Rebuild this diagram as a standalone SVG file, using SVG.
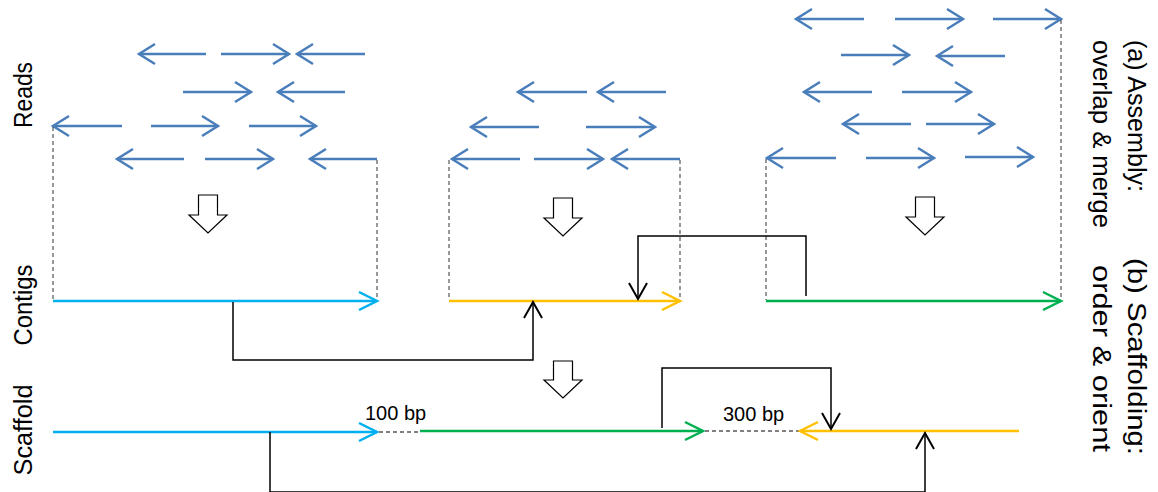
<svg xmlns="http://www.w3.org/2000/svg" width="1158" height="492" viewBox="0 0 1158 492">
<style>
.read{stroke:#4a7ebb;stroke-width:2.5;fill:none;marker-end:url(#hr)}
.guide{stroke:#333;stroke-width:1;stroke-dasharray:4 3;fill:none}
.gap{stroke:#808080;stroke-width:2;stroke-dasharray:4 3;fill:none}
.conn{stroke:#000;stroke-width:1.5;fill:none;marker-end:url(#hk)}
.blk{fill:#fff;stroke:#000;stroke-width:1.2}
.lbl{font-family:"Liberation Sans",Arial,sans-serif;font-size:26px;fill:#000}
.bp{font-family:"Liberation Sans",Arial,sans-serif;font-size:20px;fill:#000}
</style>
<defs>
<marker id="hr" markerUnits="userSpaceOnUse" markerWidth="30" markerHeight="30" viewBox="-22 -15 30 30" refX="0" refY="0" orient="auto"><path d="M-16,-10 L0,0 L-16,10" fill="none" stroke="#4a7ebb" stroke-width="2.5"/></marker>
<marker id="hb" markerUnits="userSpaceOnUse" markerWidth="30" markerHeight="30" viewBox="-22 -15 30 30" refX="0" refY="0" orient="auto"><path d="M-18,-9 L0,0 L-18,9" fill="none" stroke="#00b0f0" stroke-width="2.5"/></marker>
<marker id="hy" markerUnits="userSpaceOnUse" markerWidth="30" markerHeight="30" viewBox="-22 -15 30 30" refX="0" refY="0" orient="auto"><path d="M-18,-9 L0,0 L-18,9" fill="none" stroke="#ffc000" stroke-width="2.5"/></marker>
<marker id="hg" markerUnits="userSpaceOnUse" markerWidth="30" markerHeight="30" viewBox="-22 -15 30 30" refX="0" refY="0" orient="auto"><path d="M-18,-9 L0,0 L-18,9" fill="none" stroke="#00b050" stroke-width="2.5"/></marker>
<marker id="hk" markerUnits="userSpaceOnUse" markerWidth="30" markerHeight="30" viewBox="-22 -15 30 30" refX="0" refY="0" orient="auto"><path d="M-16,-9 L0,0 L-16,9" fill="none" stroke="#000" stroke-width="2"/></marker>
</defs>
<rect width="1158" height="492" fill="#fff"/>

<g id="labels">
<text class="lbl" transform="translate(32,95) rotate(-90)" text-anchor="middle" textLength="66" lengthAdjust="spacingAndGlyphs">Reads</text>
<text class="lbl" transform="translate(32,305) rotate(-90)" text-anchor="middle" textLength="81" lengthAdjust="spacingAndGlyphs">Contigs</text>
<text class="lbl" transform="translate(32,430) rotate(-90)" text-anchor="middle" textLength="91" lengthAdjust="spacingAndGlyphs">Scaffold</text>
<text class="lbl" transform="translate(1128,40) rotate(90)" textLength="152" lengthAdjust="spacingAndGlyphs">(a) Assembly:</text>
<text class="lbl" transform="translate(1093,40) rotate(90)" textLength="188" lengthAdjust="spacingAndGlyphs">overlap &amp; merge</text>
<text class="lbl" transform="translate(1128,258) rotate(90)" textLength="197" lengthAdjust="spacingAndGlyphs">(b) Scaffolding:</text>
<text class="lbl" transform="translate(1093,265) rotate(90)" textLength="187" lengthAdjust="spacingAndGlyphs">order &amp; orient</text>
</g>

<g id="reads-left">
<path class="read" d="M206,54 H139"/><path class="read" d="M221,54 H289"/><path class="read" d="M365,54 H297"/>
<path class="read" d="M183,92 H251"/><path class="read" d="M345,92 H278"/>
<path class="read" d="M122,126 H53"/><path class="read" d="M151,126 H218"/><path class="read" d="M249,126 H316"/>
<path class="read" d="M184,159 H117"/><path class="read" d="M205,159 H273"/><path class="read" d="M377,159 H310"/>
</g>
<g id="reads-middle">
<path class="read" d="M587,92 H518"/><path class="read" d="M666,92 H598"/>
<path class="read" d="M539,127 H471"/><path class="read" d="M586,127 H655"/>
<path class="read" d="M520,159 H452"/><path class="read" d="M534,159 H603"/><path class="read" d="M680,159 H612"/>
</g>
<g id="reads-right">
<path class="read" d="M864,19 H796"/><path class="read" d="M895,19 H963"/><path class="read" d="M993,19 H1061"/>
<path class="read" d="M841,55 H909"/><path class="read" d="M1005,56 H937"/>
<path class="read" d="M872,92 H804"/><path class="read" d="M902,92 H971"/>
<path class="read" d="M911,124 H843"/><path class="read" d="M926,124 H994"/>
<path class="read" d="M836,158 H767"/><path class="read" d="M866,158 H934"/><path class="read" d="M965,157 H1033"/>
</g>

<g id="guides">
<path class="guide" d="M53,127 V300"/><path class="guide" d="M377,160 V298"/>
<path class="guide" d="M449,160 V300"/><path class="guide" d="M680,160 V298"/>
<path class="guide" d="M766,159 V300"/><path class="guide" d="M1061,20 V298"/>
</g>

<g id="block-arrows">
<polygon class="blk" points="198.5,195 217.5,195 217.5,215 227,215 208,233 189,215 198.5,215"/>
<polygon class="blk" points="553.5,198 572.5,198 572.5,218 582,218 563,236 544,218 553.5,218"/>
<polygon class="blk" points="915.5,197 934.5,197 934.5,217 944,217 925,235 906,217 915.5,217"/>
<polygon class="blk" points="553.5,361 572.5,361 572.5,380 582,380 563,398 544,380 553.5,380"/>
</g>

<g id="contig-blue"><path d="M53,301 H377" stroke="#00b0f0" stroke-width="2.5" fill="none" marker-end="url(#hb)"/></g>
<g id="contig-yellow"><path d="M449,301 H680" stroke="#ffc000" stroke-width="2.5" fill="none" marker-end="url(#hy)"/></g>
<g id="contig-green"><path d="M766,301 H1061" stroke="#00b050" stroke-width="2.5" fill="none" marker-end="url(#hg)"/></g>

<g id="scaffold">
<path d="M53,432 H377" stroke="#00b0f0" stroke-width="2.5" fill="none" marker-end="url(#hb)"/>
<path class="gap" d="M379,432 H420"/>
<path d="M420,431 H703" stroke="#00b050" stroke-width="2.5" fill="none" marker-end="url(#hg)"/>
<path class="gap" d="M705,431 H799"/>
<path d="M1019,431 H800" stroke="#ffc000" stroke-width="2.5" fill="none" marker-end="url(#hy)"/>
<text class="bp" x="365" y="420">100 bp</text>
<text class="bp" x="723" y="421">300 bp</text>
</g>

<g id="connectors">
<path class="conn" d="M233,302 V360 H533 V302"/>
<path class="conn" d="M806,296 V236 H638 V299"/>
<path class="conn" d="M662,428 V368 H831 V429"/>
<path class="conn" d="M270,432 V492 H925 V433"/>
</g>
</svg>
